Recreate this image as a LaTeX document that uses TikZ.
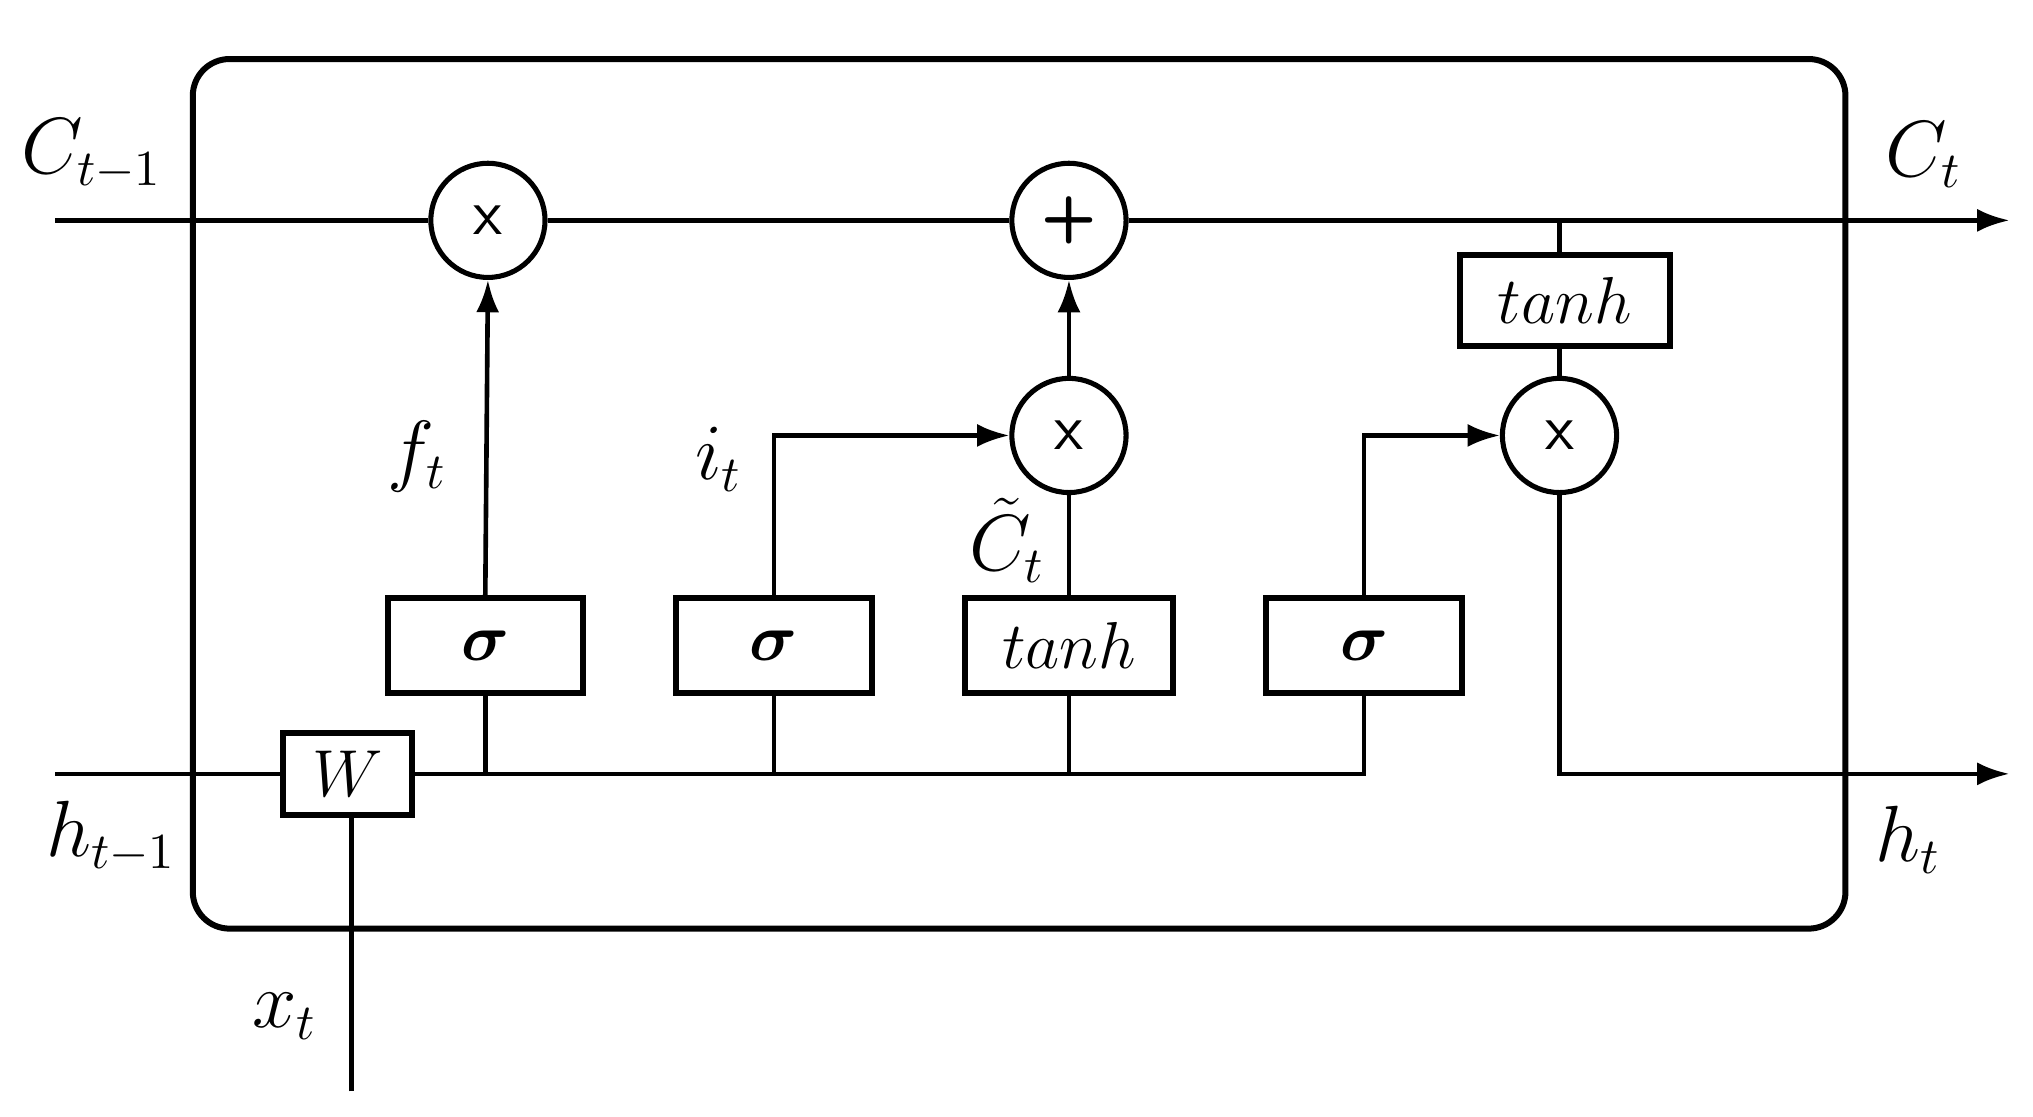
\documentclass[tikz,border=0pt]{standalone}
\usepackage{amsmath,bm}
\usetikzlibrary{arrows.meta}
\begin{document}
\begin{tikzpicture}[x=0.01cm,y=-0.01cm,line width=1pt,
  box/.style={draw,line width=1.3pt,minimum width=1.49cm,minimum height=0.72cm,inner sep=0pt,font=\fontsize{15}{18}\selectfont},
  op/.style={draw,circle,line width=1.1pt,minimum size=0.87cm,inner sep=0pt,font=\fontsize{14}{16}\sffamily},
  lab/.style={font=\fontsize{16}{19}\selectfont},
  arr/.style={-{Latex[length=7pt,width=5pt]}}]
\useasboundingbox (0,0) rectangle (1550,851);
\draw[line width=1.3pt,rounded corners=0.28cm] (147,45) rectangle (1407,708);
\node[op] (m1) at (372,168) {x};
\node[op] (p) at (815,168) {\textbf{+}};
\node[op] (m2) at (815,332) {x};
\node[op] (m3) at (1189,332) {x};
\node[box] (s1) at (370,492) {$\bm\sigma$};
\node[box] (s2) at (590,492) {$\bm\sigma$};
\node[box,minimum width=1.58cm] (t1) at (815,492) {$tanh$};
\node[box] (s4) at (1040,492) {$\bm\sigma$};
\node[box,minimum width=1.6cm,minimum height=0.69cm] (t2) at (1193,229) {$tanh$};
\node[box,minimum width=0.98cm,minimum height=0.63cm] (w) at (265,590) {$W$};
\coordinate (cin) at (42,168); \coordinate (cout) at (1532,168);
\coordinate (hin) at (42,590); \coordinate (hout) at (1532,590);
\coordinate (xin) at (268,832);
\coordinate (ct) at (1189,168);
\draw (cin) -- (m1) -- (p);
\draw[arr] (p) -- (cout);
\draw (hin) -- (w);
\draw (w.east) -- (1040,590) -- (s4.south);
\draw (xin) -- (xin|-w.south);
\draw (s1.south) -- (s1.south|-w.east);
\draw (s2.south) -- (s2.south|-w.east);
\draw (t1.south) -- (t1.south|-w.east);
\draw[arr] (s1.north) -- (m1.south);
\draw[arr] (s2.north) |- (m2.west);
\draw[arr] (s4.north) |- (m3.west);
\draw (t1.north) -- (m2.south);
\draw[arr] (m2.north) -- (p.south);
\draw (ct) -- (ct|-t2.north);
\draw (ct|-t2.south) -- (m3.north);
\draw[arr] (m3.south) |- (hout);
\node[lab] (l1) at (70,118) {$C_{t-1}$};
\node[lab] (l2) at (1467,118) {$C_t$};
\node[lab] (l3) at (85,638) {$h_{t-1}$};
\node[lab] (l4) at (1455,640) {$h_t$};
\node[lab] (l5) at (217,775) {$x_t$};
\node[lab] (l6) at (318,348) {$f_t$};
\node[lab] (l7) at (548,350) {$i_t$};
\node[lab,inner sep=1pt] (l8) at (768,412) {$\tilde C_t$};
\end{tikzpicture}
\end{document}
